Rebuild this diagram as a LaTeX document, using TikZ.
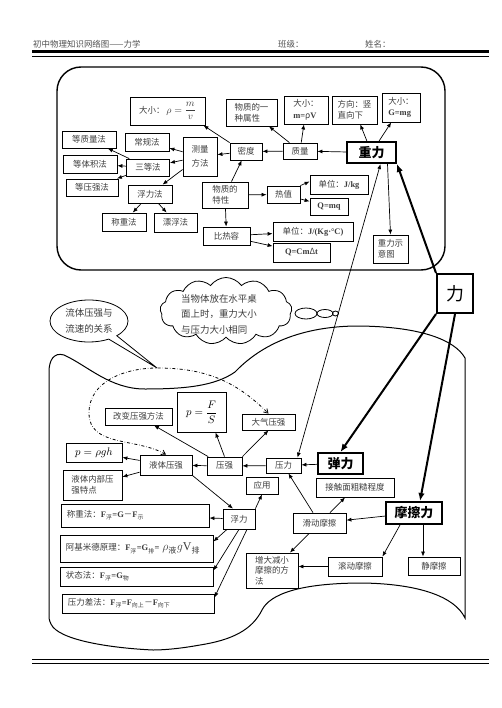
\documentclass[tikz,border=0pt]{standalone}
\usepackage{amsmath}
\usepackage{fontspec}
\setmainfont{Liberation Serif}
\newfontfamily\cjk{Noto Sans CJK SC}
\usepackage{tikz}
\usetikzlibrary{arrows.meta,shapes.geometric,shapes.symbols,shapes.callouts,calc}
\definecolor{txt}{HTML}{3C3C3C}
\definecolor{head}{HTML}{505050}
\newcommand\lat[1]{{\rmfamily\bfseries #1}}
\newcommand\xia[1]{\textsubscript{#1}}

\begin{document}
\begin{tikzpicture}[
          x=1bp,y=-1bp,
          box/.style={draw,line width=0.8bp,inner sep=2bp,align=left,text=txt,
                      font=\cjk\fontsize{8.5}{11.5}\selectfont},
          fmbox/.style={box,inner xsep=6bp},
          keybox/.style={draw,line width=2bp,inner sep=2bp,
                         font=\cjk\bfseries\fontsize{13}{15}\selectfont},
          arr/.style={-{Latex[length=5bp,width=4bp]},line width=0.7bp},
          darr/.style={{Latex[length=5bp,width=4bp]}-{Latex[length=5bp,width=4bp]},line width=0.7bp},
          bigarr/.style={-{Latex[length=8bp,width=6.5bp]},line width=2bp},
          dd/.style={dash dot,line width=0.8bp,
                     {Straight Barb[length=4bp,width=5bp]}-{Straight Barb[length=4bp,width=5bp]}},
          headtxt/.style={font=\cjk\fontsize{8.5}{10}\selectfont,text=head,anchor=west,inner sep=0pt}
      ]
        \useasboundingbox (0,0) rectangle (502,708);

        % header
        \node[headtxt] (biaoti) at (33,44) {初中物理知识网络图——力学};
        \node[headtxt] (banji) at (278,44) {班级：};
        \node[headtxt] (xingming) at (365,44) {姓名：};
        \draw[line width=2.5bp] (32,51.7) -- (489,51.7);
        \draw[line width=0.8bp] (32,56.2) -- (489,56.2);
        \draw[line width=0.8bp] (32,659.5) -- (489,659.5);
        \draw[line width=0.8bp] (32,663) -- (489,663);

        % outlines
        \draw[line width=1.4bp,rounded corners=24bp] (57,67) rectangle (445,270);
        \draw[line width=1bp] (49,615) -- (49,372)
          .. controls (49,360) and (54,352) .. (64,355)
          .. controls (88,366) and (110,389) .. (145,389)
          .. controls (185,389) and (215,386) .. (235,372)
          .. controls (258,348) and (295,327) .. (355,326)
          .. controls (420,326) and (455,340) .. (465,358)
          -- (465,618)
          .. controls (455,597) and (420,584) .. (363,583)
          .. controls (300,583) and (270,594) .. (262,610)
          .. controls (252,630) and (232,640) .. (200,645)
          .. controls (178,649) and (162,650) .. (153,650)
          .. controls (110,648) and (58,640) .. (51,624)
          .. controls (49,620) and (49,618) .. (49,615) -- cycle;

        % upper part
        \node[box,minimum width=75bp,minimum height=28bp] (rhoDef) at (167.5,111)
          {大小：\ {\fontsize{10}{12}\selectfont$\rho=\dfrac{m}{v}$}};
        \node[box,minimum width=51bp,minimum height=27bp] (shuxing) at (251.5,112.5)
          {物质的一\\种属性};
        \node[box,minimum width=44bp,minimum height=28bp] (mSize) at (306,110)
          {大小：\\\lat{m=}ρ\lat{V}};
        \node[box,minimum width=45bp,minimum height=28bp] (gDir) at (354.5,110)
          {方向：竖\\直向下};
        \node[box,minimum width=38bp,minimum height=29bp] (gSize) at (401,107.5)
          {大小：\\\lat{G=mg}};
        \node[keybox,minimum width=49bp,minimum height=21bp] (zhongli) at (371.5,152.5) {重力};
        \node[box,minimum width=34bp,minimum height=16bp] (zhiliang) at (300,151) {质量};
        \node[box,minimum width=32bp,minimum height=17bp] (midu) at (246,151.5) {密度};
        \node[box,minimum width=34bp,minimum height=39bp,
              font=\cjk\fontsize{8.5}{14}\selectfont] (celiang) at (200,156.5) {测量\\方法};
        \node[box,minimum width=44bp,minimum height=18bp] (changgui) at (147,142) {常规法};
        \node[box,minimum width=43bp,minimum height=17bp] (sandeng) at (148,167.5) {三等法};
        \node[box,minimum width=54bp,minimum height=17bp] (dengzl) at (89,139.5) {等质量法};
        \node[box,minimum width=54bp,minimum height=18bp] (dengtj) at (90,164) {等体积法};
        \node[box,minimum width=52bp,minimum height=17bp] (dengyq) at (92,187.5) {等压强法};
        \node[box,minimum width=44bp,minimum height=18bp] (fulifa) at (150,194) {浮力法};
        \node[box,minimum width=44bp,minimum height=18bp] (chengzhong) at (124,222) {称重法};
        \node[box,minimum width=43bp,minimum height=19bp] (piaofu) at (175.5,222.5) {漂浮法};
        \node[box,minimum width=46bp,minimum height=26bp] (texing) at (225,195) {物质的\\特性};
        \node[box,minimum width=33bp,minimum height=17bp] (rezhi) at (283.5,194.5) {热值};
        \node[box,minimum width=58bp,minimum height=19bp] (rzUnit) at (339,184.5)
          {单位：\lat{J/kg}};
        \node[box,minimum width=38bp,minimum height=17bp] (qmq) at (329,206.5) {\lat{Q=mq}};
        \node[box,minimum width=47bp,minimum height=18bp] (birerong) at (226.5,236) {比热容};
        \node[box,minimum width=80bp,minimum height=19bp] (brUnit) at (313,231.5)
          {单位：\lat{J/(Kg·°C)}};
        \node[box,minimum width=57bp,minimum height=19bp] (qcm) at (301.5,252.5)
          {\lat{Q=Cm}Δ\lat{t}};
        \node[box,minimum width=35bp,minimum height=28bp] (shiyi) at (390.5,249)
          {重力示\\意图};
        \node[draw,line width=2bp,minimum width=36bp,minimum height=39bp,
              font=\cjk\fontsize{18}{20}\selectfont] (li) at (455,293.5) {力};

        % callouts
        \coordinate (jiantou) at (157,368);
        \node[ellipse callout,draw,line width=0.8bp,minimum width=78bp,minimum height=42bp,
              inner sep=0pt,callout absolute pointer={(jiantou)},align=left,text=txt,
              font=\cjk\fontsize{9.5}{16}\selectfont] (liuti) at (89,321)
          {流体压强与\\流速的关系};
        \node[cloud,draw,line width=0.8bp,cloud puffs=13,cloud puff arc=110,
              minimum width=132bp,minimum height=67bp,inner sep=0pt] (yunduo) at (226,311) {};
        \node[align=left,text=txt,font=\cjk\fontsize{9.5}{15.5}\selectfont] (yunwen) at (219,314)
          {当物体放在水平桌\\面上时，重力大小\\与压力大小相同};
        \node[ellipse,draw,line width=0.8bp,minimum width=22bp,minimum height=11bp,inner sep=0pt]
          (qipao1) at (306,313.5) {};
        \node[ellipse,draw,line width=0.8bp,minimum width=16bp,minimum height=8bp,inner sep=0pt]
          (qipao2) at (325,313.5) {};
        \node[ellipse,draw,line width=0.8bp,minimum width=6bp,minimum height=5bp,inner sep=0pt]
          (qipao3) at (335.5,313.5) {};

        % lower part
        \node[box,minimum width=67bp,minimum height=17bp] (gaibian) at (138.5,416.5) {改变压强方法};
        \node[box,minimum width=49bp,minimum height=40bp,text=black] (pFS) at (201.5,412)
          {\fontsize{11}{13}\selectfont$p=\dfrac{F}{S}$};
        \node[box,minimum width=53bp,minimum height=16bp] (daqi) at (268.5,422) {大气压强};
        \node[box,minimum width=56bp,minimum height=19bp,text=black] (pgh) at (94,452.5)
          {\fontsize{11}{13}\selectfont$p=\rho gh$};
        \node[box,minimum width=52bp,minimum height=20bp] (yeti) at (166,465) {液体压强};
        \node[box,minimum width=35bp,minimum height=18bp] (yaqiang) at (224.5,466) {压强};
        \node[box,minimum width=35bp,minimum height=15bp] (yali) at (283.5,465.5) {压力};
        \node[keybox,minimum width=45bp,minimum height=21bp] (tanli) at (340.5,463.5) {弹力};
        \node[box,minimum width=32bp,minimum height=17bp] (yingyong) at (262,485.5) {应用};
        \node[box,minimum width=59bp,minimum height=30bp] (neibu) at (92.5,485)
          {液体内部压\\强特点};
        \node[box,minimum width=78bp,minimum height=19bp] (cucao) at (355,487.5) {接触面粗糙程度};
        \node[keybox,minimum width=56bp,minimum height=22bp] (mocali) at (414,513) {摩擦力};
        \node[box,minimum width=53bp,minimum height=20bp] (huadong) at (319.5,523) {滑动摩擦};
        \node[box,minimum width=32bp,minimum height=20bp] (fuli) at (239,519) {浮力};
        \node[fmbox,text width=136bp,minimum height=23bp] (chengzhongF) at (135,515.5)
          {称重法：\lat{F}\xia{浮}\lat{=G}－\lat{F}\xia{示}};
        \node[fmbox,text width=141bp,minimum height=27bp] (ajimide) at (136.5,548.5)
          {阿基米德原理：\lat{F}\xia{浮}\lat{=G}\xia{排}\lat{=}
           {\fontsize{12}{13}\selectfont$\rho_{\text{液}}g\mathrm{V}_{\text{排}}$}};
        \node[fmbox,text width=141bp,minimum height=19bp] (zhuangtai) at (136.5,576.5)
          {状态法：\lat{F}\xia{浮}\lat{=G}\xia{物}};
        \node[fmbox,text width=140bp,minimum height=19bp] (yalicha) at (138,603.5)
          {压力差法：\lat{F}\xia{浮}\lat{=F}\xia{向上}－\lat{F}\xia{向下}};
        \node[box,minimum width=52bp,minimum height=35bp,
              font=\cjk\fontsize{8.5}{10.5}\selectfont] (zengda) at (272,570.5)
          {增大减小\\摩擦的方\\法};
        \node[box,minimum width=54bp,minimum height=19bp] (gundong) at (355,566.5) {滚动摩擦};
        \node[box,minimum width=52bp,minimum height=18bp] (jing) at (434,566) {静摩擦};

        % upper connectors
        \draw[arr] (zhongli) -- (zhiliang);
        \draw[arr] (zhiliang) -- (midu);
        \draw[arr] (zhiliang) -- (shuxing);
        \draw[arr] (zhiliang) -- (mSize);
        \draw[arr] (zhongli) -- (gDir);
        \draw[arr] (zhongli) -- (gSize);
        \draw[arr] (midu.north west) -- ([xshift=-2bp]rhoDef.south east);
        \draw[arr] (midu) -- (celiang);
        \draw[arr] (texing) -- (midu);
        \draw[arr] (celiang) -- (changgui);
        \draw[arr] (celiang) -- (sandeng);
        \draw[arr] (celiang) -- (fulifa);
        \draw[arr] (sandeng) -- (dengzl);
        \draw[arr] (sandeng) -- (dengtj);
        \draw[arr] (sandeng) -- (dengyq);
        \draw[arr] (fulifa) -- (chengzhong);
        \draw[arr] (fulifa) -- (piaofu);
        \draw[arr] (texing) -- (rezhi);
        \draw[arr] (texing) -- (birerong);
        \draw[arr] (rezhi.north east) -- ([yshift=3bp]rzUnit.west);
        \draw[arr] (rezhi) -- (qmq);
        \draw[arr] (birerong) -- (brUnit);
        \draw[arr] (birerong) -- (qcm);
        \draw[arr] ([xshift=16bp]zhongli.south) -- (shiyi.north);
        \draw[darr] ([xshift=9bp]zhongli.south) -- ([xshift=14bp]yali.north);
        \draw[bigarr] (li.north west) -- (zhongli.south east);
        \draw[bigarr] (li.south west) -- (tanli.north);
        \draw[bigarr] (li.south) -- ([xshift=6bp]mocali.north);

        % lower connectors
        \draw[dd] (yeti.north) to[out=150,in=-90] (89,413) to[out=90,in=180] (jiantou)
          to[out=0,in=135] (daqi.north);
        \draw[arr] (yaqiang) -- (gaibian);
        \draw[arr] (yaqiang.north) -- ([xshift=14bp]pFS.south);
        \draw[arr] (yaqiang.north east) -- (daqi.south);
        \draw[arr] (yaqiang) -- (yeti);
        \draw[arr] (yali) -- (yaqiang);
        \draw[arr] (tanli) -- (yali);
        \draw[arr] (yeti) -- (pgh);
        \draw[arr] (yeti) -- (neibu);
        \draw[arr] (yeti.south east) -- ([xshift=-6bp]fuli.north);
        \draw[arr] (fuli.north east) -- (yingyong.south);
        \draw[arr] (fuli) -- (chengzhongF);
        \draw[arr] ([xshift=-12bp]fuli.south) -- ([yshift=7bp]ajimide.east);
        \draw[arr] (fuli.south) -- ([yshift=6bp]zhuangtai.east);
        \draw[arr] ([xshift=8bp]fuli.south) -- ([yshift=6bp]yalicha.east);
        \draw[arr] (huadong) -- (yali);
        \draw[arr] (huadong) -- (cucao);
        \draw[arr] (huadong) -- (zengda);
        \draw[arr] (mocali) -- (huadong);
        \draw[arr] ([xshift=-14bp]mocali.south) -- (gundong.north east);
        \draw[arr] ([xshift=9bp]mocali.south) -- ([xshift=9bp]mocali.south |- jing.north);
        \draw[arr] (gundong.west) -- (gundong.west -| zengda.east);
      \end{tikzpicture}
\end{document}
